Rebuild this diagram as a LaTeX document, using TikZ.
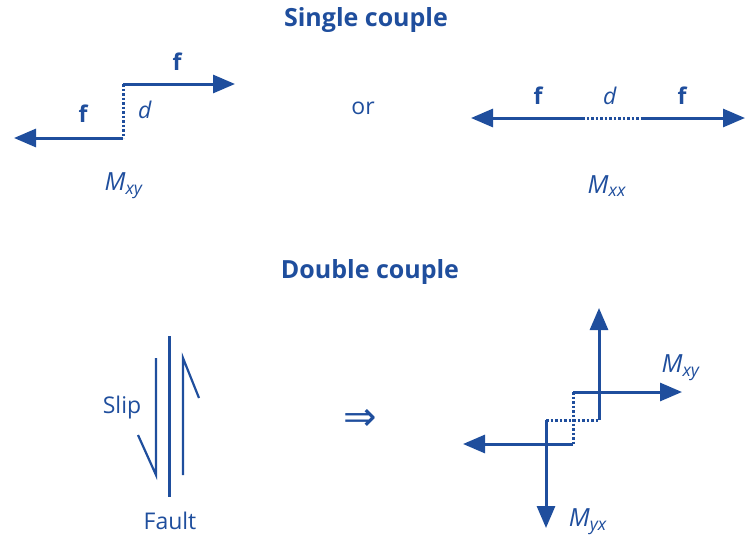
\documentclass[tikz,border=0pt]{standalone}
\usepackage{fontspec}
\setmainfont{Open Sans}
\newfontfamily\arrowfont{DejaVu Sans}
\usetikzlibrary{arrows.meta, positioning}
\definecolor{coupleblue}{RGB}{31,78,157}
\newcommand{\mom}[1]{\textit{M}\textsubscript{\textit{#1}}}

\begin{document}
\begin{tikzpicture}[
  x=1pt, y=-1pt,
  force/.style={line width=3pt, coupleblue, -{Triangle[length=22pt, width=18pt]}},
  arm/.style={line width=3pt, coupleblue, dash pattern=on 2.5pt off 2pt},
  slip/.style={line width=2.2pt, coupleblue, line join=miter},
  lbl/.style={text=coupleblue, font=\fontsize{23}{27}\selectfont, inner sep=0pt},
  flbl/.style={lbl, font=\fontsize{23}{27}\selectfont\bfseries},
  mlbl/.style={lbl, font=\fontsize{25}{30}\selectfont},
  head/.style={text=coupleblue, font=\fontsize{25}{30}\selectfont\bfseries, inner sep=0pt},
]
  \useasboundingbox (0,0) rectangle (745,538);

  % headings
  \node[head] (single) at (366,20) {Single couple};
  \node[head] (double) at (370,272) {Double couple};

  % single couple, offset forces
  \coordinate (xyup) at (123,84);
  \coordinate (xyuptip) at (235,84);
  \coordinate (xylow) at (123,138);
  \coordinate (xylowtip) at (14,138);
  \draw[force] (xyup) -- (xyuptip);
  \draw[force] (xylow) -- (xylowtip);
  \draw[arm] (xyup) -- (xylow);
  \node[flbl] (fup) at (177,62) {f};
  \node[flbl] (flow) at (83,114) {f};
  \node[lbl] (dxy) at (145,110) {\textit{d}};
  \node[mlbl] (mxy) at (124,186) {\mom{xy}};

  \node[lbl] (or) at (363,108) {or};

  % single couple, forces in line
  \coordinate (xxleft) at (582,118);
  \coordinate (xxlefttip) at (471,118);
  \coordinate (xxright) at (643,118);
  \coordinate (xxrighttip) at (745,118);
  \draw[force] (xxleft) -- (xxlefttip);
  \draw[force] (xxright) -- (xxrighttip);
  \draw[arm] (xxleft) -- (xxright);
  \node[flbl] (fleft) at (538,96) {f};
  \node[lbl] (dxx) at (610,96) {\textit{d}};
  \node[flbl] (fright) at (682,96) {f};
  \node[mlbl] (mxx) at (607,186) {\mom{xx}};

  % fault and slip
  \coordinate (ftop) at (169,336);
  \coordinate (fbot) at (169,497);
  \draw[line width=3pt, coupleblue] (ftop) -- (fbot);
  \coordinate (sltop) at (156,358);
  \coordinate (slbot) at (156,475);
  \coordinate (slbarb) at (138,435);
  \draw[slip] (sltop) -- (slbot) -- (slbarb);
  \coordinate (srtop) at (183,358);
  \coordinate (srbot) at (183,475);
  \coordinate (srbarb) at (199,398);
  \draw[slip] (srbot) -- (srtop) -- (srbarb);
  \node[lbl] (sliplbl) at (122,408) {Slip};
  \node[lbl] (faultlbl) at (170,521) {Fault};

  \node[lbl, font=\fontsize{40}{44}\arrowfont] (implies) at (360,420) {⇒};

  % double couple
  \coordinate (ctr1) at (573,392);
  \coordinate (ctr2) at (573,444);
  \coordinate (vup) at (599,420);
  \coordinate (vdown) at (546,420);
  \draw[force] (ctr1) -- (682,392) coordinate (xytip);
  \draw[force] (ctr2) -- (463,444) coordinate (xytipl);
  \draw[force] (vup) -- (599,308) coordinate (yxtipu);
  \draw[force] (vdown) -- (546,528) coordinate (yxtipd);
  \draw[arm] (ctr1) -- (ctr2);
  \draw[arm] (vdown) -- (vup);
  \node[mlbl] (mxy2) at (681,368) {\mom{xy}};
  \node[mlbl] (myx) at (588,522) {\mom{yx}};
\end{tikzpicture}
\end{document}
